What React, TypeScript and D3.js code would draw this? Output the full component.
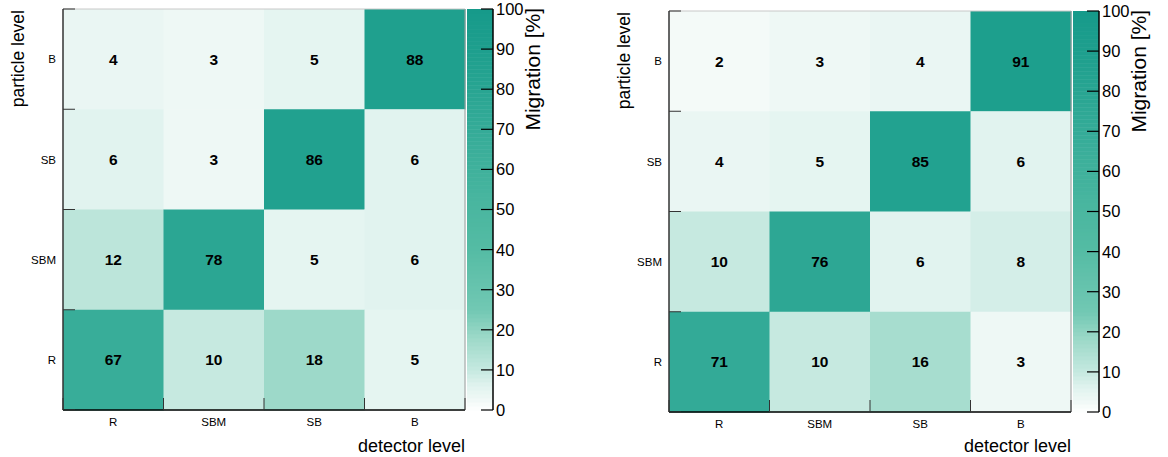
import React from 'react';
import * as d3 from 'd3';

const xCategories = ['R', 'SBM', 'SB', 'B'];
const yCategories = ['B', 'SB', 'SBM', 'R'];

// rows follow yCategories (top to bottom), columns follow xCategories
const leftValues = [
  [4, 3, 5, 88],
  [6, 3, 86, 6],
  [12, 78, 5, 6],
  [67, 10, 18, 5],
];
const rightValues = [
  [2, 3, 4, 91],
  [4, 5, 85, 6],
  [10, 76, 6, 8],
  [71, 10, 16, 3],
];

const colorTicks = [0, 10, 20, 30, 40, 50, 60, 70, 80, 90, 100];

const paletteStops = [0, 3, 6, 10, 18, 25, 40, 67, 86, 100];
const paletteColors = ['#ffffff', '#eef8f5', '#e1f3ef', '#c6e9e0', '#9dd9c9', '#72c8b3', '#55bca4', '#38ad99', '#21a18f', '#169a8a'];

const color = d3.scaleLinear<string>()
  .domain(paletteStops)
  .range(paletteColors)
  .interpolate(d3.interpolateRgb)
  .clamp(true);

const FONT = '"Liberation Sans", Arial, Helvetica, sans-serif';

interface PanelProps {
  values: number[][];
  x0: number;
  y0: number;
}

const Panel: React.FC<PanelProps> = ({ values, x0, y0 }) => {
  const w = 402;
  const h = 401;
  const x = d3.scaleBand().domain(xCategories).range([x0, x0 + w]);
  const y = d3.scaleBand().domain(yCategories).range([y0, y0 + h]);

  const cbLeft = x0 + w + 2;
  const cbRight = cbLeft + 26;
  const cz = d3.scaleLinear().domain([0, 100]).range([y0 + h, y0]);
  const bands = d3.range(0, 100, 1);

  const tickLen = 12;
  const xEdges = xCategories.map(c => x(c)!).concat([x0 + w]);
  const yEdges = yCategories.map(c => y(c)!).concat([y0 + h]);

  return (
    <g>
      {/* cells */}
      {values.map((row, i) =>
        row.map((v, j) => (
          <g key={`${i}-${j}`}>
            <rect
              x={x(xCategories[j])}
              y={y(yCategories[i])}
              width={x.bandwidth() + 0.5}
              height={y.bandwidth() + 0.5}
              fill={color(v)}
            />
            <text
              x={x(xCategories[j])! + x.bandwidth() / 2}
              y={y(yCategories[i])! + y.bandwidth() / 2}
              dy="0.36em"
              textAnchor="middle"
              fontFamily={FONT}
              fontWeight="bold"
              fontSize={15.5}
              fill="#000"
            >
              {v}
            </text>
          </g>
        ))
      )}

      {/* frame */}
      <line x1={x0} x2={x0 + w} y1={y0} y2={y0} stroke="#c8c8c8" strokeWidth={1} />
      <line x1={x0 + w} x2={x0 + w} y1={y0} y2={y0 + h} stroke="#9a9a9a" strokeWidth={1} />
      <line x1={x0} x2={x0} y1={y0} y2={y0 + h} stroke="#333" strokeWidth={1.5} />
      <line x1={x0} x2={x0 + w} y1={y0 + h} y2={y0 + h} stroke="#000" strokeWidth={1.5} />

      {/* ticks on the y axis at bin edges */}
      {yEdges.map((e, i) => (
        <line key={`yt${i}`} x1={x0} x2={x0 + tickLen} y1={e} y2={e} stroke="#333" strokeWidth={1} />
      ))}
      {xEdges.map((e, i) => (
        <line key={`xt${i}`} x1={e} x2={e} y1={y0 + h} y2={y0 + h - tickLen} stroke="#333" strokeWidth={1} />
      ))}

      {/* category labels */}
      {xCategories.map(c => (
        <text key={`xl${c}`} x={x(c)! + x.bandwidth() / 2} y={y0 + h + 16} textAnchor="middle"
          fontFamily={FONT} fontSize={11.5} fill="#000">{c}</text>
      ))}
      {yCategories.map(c => (
        <text key={`yl${c}`} x={x0 - 7} y={y(c)! + y.bandwidth() / 2} dy="0.36em" textAnchor="end"
          fontFamily={FONT} fontSize={11.5} fill="#000">{c}</text>
      ))}

      {/* axis titles */}
      <text x={x0 + w} y={452} textAnchor="end" fontFamily={FONT} fontSize={18} fill="#000">
        detector level
      </text>
      <text transform={`translate(${x0 - 39},${y0 + 1}) rotate(-90)`} textAnchor="end"
        fontFamily={FONT} fontSize={17.5} fill="#000">
        particle level
      </text>

      {/* colour bar */}
      {bands.map(b => (
        <rect key={`cb${b}`} x={cbLeft} y={cz(b + 1)} width={cbRight - cbLeft}
          height={cz(b) - cz(b + 1) + 0.5} fill={color(b + 0.5)} />
      ))}
      <line x1={cbRight} x2={cbRight} y1={y0} y2={y0 + h} stroke="#000" strokeWidth={1.5} />
      {colorTicks.map(t => (
        <g key={`ct${t}`}>
          <line x1={cbRight - tickLen} x2={cbRight} y1={cz(t)} y2={cz(t)} stroke="#000" strokeWidth={1.2} />
          <text x={cbRight + 3} y={cz(t)} dy="0.36em" fontFamily={FONT} fontSize={16.5} fill="#000">{t}</text>
        </g>
      ))}
      <text transform={`translate(${cbRight + 47},${y0 - 1}) rotate(-90)`} textAnchor="end"
        fontFamily={FONT} fontSize={21} fill="#000">
        Migration [%]
      </text>
    </g>
  );
};

export default function App() {
  return (
    <svg width={1168} height={457} style={{ position: 'absolute', left: 0, top: 0, background: '#fff' }}>
      <rect width={1168} height={457} fill="#fff" />
      <Panel values={leftValues} x0={63} y0={9} />
      <Panel values={rightValues} x0={669} y0={11} />
    </svg>
  );
}
